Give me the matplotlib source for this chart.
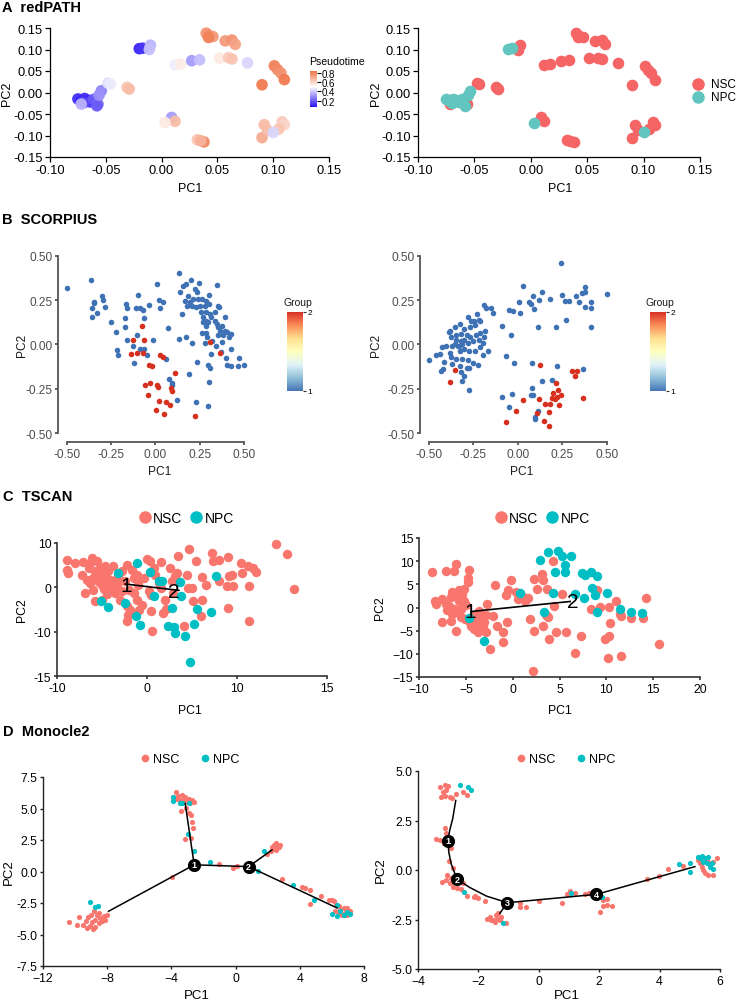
import numpy as np
import matplotlib
matplotlib.use("Agg")
import matplotlib.pyplot as plt
from matplotlib.colors import LinearSegmentedColormap, Normalize
from matplotlib.lines import Line2D
from matplotlib.cm import ScalarMappable

plt.rcParams['font.family'] = ['Liberation Sans', 'DejaVu Sans']

W, H = 738, 1003

# ---------------- Panel A data (redPATH) ----------------
a_pc1 = [-0.075, -0.072, -0.069, -0.066, -0.064, -0.070, -0.072, -0.061, -0.057, -0.058,
         -0.054, -0.056, -0.048, -0.046, -0.031, -0.029, -0.020, -0.017, -0.010, -0.011,
         0.012, 0.017, 0.027, 0.034, 0.040, 0.043, 0.046, 0.042, 0.057, 0.063,
         0.066, 0.052, 0.060, 0.063, 0.077, 0.101, 0.104, 0.107, 0.110, 0.090,
         0.009, 0.012, 0.003, 0.032, 0.038, 0.035, 0.092, 0.108, 0.110, 0.105,
         0.090, 0.095, 0.100]
a_pc2 = [-0.015, -0.020, -0.014, -0.018, -0.022, -0.024, -0.027, -0.016, -0.027, -0.031,
         0.004, -0.006, 0.022, 0.020, 0.012, 0.008, 0.102, 0.103, 0.110, 0.100,
         0.064, 0.066, 0.074, 0.076, 0.138, 0.132, 0.130, 0.128, 0.120, 0.122,
         0.112, 0.080, 0.081, 0.078, 0.069, 0.062, 0.053, 0.045, 0.030, 0.018,
         -0.058, -0.067, -0.070, -0.110, -0.115, -0.112, -0.075, -0.068, -0.075, -0.085,
         -0.105, -0.088, -0.093]
a_pt = [0.12, 0.10, 0.12, 0.11, 0.14, 0.16, 0.36, 0.20, 0.24, 0.20,
        0.28, 0.30, 0.44, 0.46, 0.64, 0.66, 0.10, 0.13, 0.36, 0.38,
        0.47, 0.54, 0.32, 0.38, 0.76, 0.78, 0.74, 0.80, 0.74, 0.76,
        0.72, 0.55, 0.62, 0.64, 0.42, 0.80, 0.78, 0.76, 0.82, 0.82,
        0.32, 0.66, 0.55, 0.64, 0.78, 0.68, 0.66, 0.62, 0.60, 0.64,
        0.70, 0.66, 0.42]
a_grp = ['NPC', 'NPC', 'NPC', 'NPC', 'NPC', 'NPC', 'NSC', 'NPC', 'NSC', 'NPC',
         'NPC', 'NPC', 'NSC', 'NSC', 'NSC', 'NSC', 'NPC', 'NPC', 'NSC', 'NSC',
         'NSC', 'NSC', 'NSC', 'NSC', 'NSC', 'NSC', 'NSC', 'NSC', 'NSC', 'NSC',
         'NSC', 'NSC', 'NSC', 'NSC', 'NSC', 'NSC', 'NSC', 'NSC', 'NSC', 'NSC',
         'NSC', 'NSC', 'NPC', 'NSC', 'NSC', 'NSC', 'NSC', 'NSC', 'NSC', 'NSC',
         'NSC', 'NSC', 'NPC']

# ---------------- Panel B data (SCORPIUS) ----------------
b1_blue = [(-0.50, 0.317), (-0.365, 0.364), (-0.35, 0.238), (-0.345, 0.232), (-0.36, 0.206),
           (-0.358, 0.156), (-0.333, 0.178), (-0.305, 0.276), (-0.294, 0.251), (-0.283, 0.21),
           (-0.253, 0.126), (-0.221, 0.069), (-0.215, -0.03), (-0.212, -0.058), (-0.175, 0.10),
           (-0.172, 0.15), (-0.166, 0.229), (-0.16, 0.206), (-0.159, 0.026), (-0.129, -0.006),
           (-0.123, -0.105), (-0.106, 0.051), (-0.10, 0.281), (-0.108, 0.208), (-0.087, 0.204),
           (-0.072, 0.195), (-0.065, 0.152), (-0.09, -0.024), (-0.063, -0.024), (-0.05, -0.058),
           (-0.036, 0.225), (-0.012, 0.026), (0.007, 0.343), (0.02, 0.25), (0.045, 0.238),
           (0.027, 0.208), (0.073, 0.096), (0.059, -0.081), (0.078, -0.193), (0.093, -0.218),
           (0.091, -0.23), (0.12, -0.311), (0.134, 0.403), (0.147, 0.171), (0.131, 0.032),
           (0.17, 0.045), (0.19, -0.167), (0.204, 0.006), (0.234, -0.099), (0.228, -0.325),
           (0.282, 0.006), (0.295, -0.118), (0.307, -0.131), (0.301, -0.212), (0.294, -0.349),
           (0.314, -0.053), (0.32, 0.019), (0.35, 0.336), (0.138, 0.295), (0.153, 0.332),
           (0.175, 0.34), (0.2, 0.364), (0.222, 0.313), (0.245, 0.347), (0.232, 0.295),
           (0.185, 0.276), (0.168, 0.248), (0.195, 0.238), (0.213, 0.257), (0.241, 0.257),
           (0.265, 0.257), (0.288, 0.248), (0.301, 0.28), (0.179, 0.22), (0.204, 0.22),
           (0.228, 0.21), (0.25, 0.22), (0.279, 0.22), (0.301, 0.229), (0.258, 0.182),
           (0.285, 0.186), (0.308, 0.173), (0.336, 0.182), (0.355, 0.22), (0.36, 0.212),
           (0.27, 0.154), (0.288, 0.135), (0.316, 0.154), (0.337, 0.135), (0.391, 0.154),
           (0.268, 0.126), (0.288, 0.107), (0.299, 0.126), (0.345, 0.116), (0.355, 0.098),
           (0.373, 0.107), (0.364, 0.079), (0.391, 0.079), (0.406, 0.069), (0.429, 0.06),
           (0.416, 0.041), (0.383, 0.051), (0.355, 0.054), (0.284, 0.066), (0.292, 0.041),
           (0.378, 0.013), (0.426, -0.024), (0.40, -0.077), (0.403, -0.118), (0.429, -0.122),
           (0.466, -0.122), (0.498, -0.118), (0.47, -0.077), (0.372, -0.043), (0.34, -0.006),
           (0.265, 0.066)]
b1_red = [(-0.076, 0.103), (-0.065, 0.028), (-0.125, 0.026), (-0.138, -0.053), (-0.106, -0.047),
          (-0.072, -0.049), (-0.039, -0.114), (-0.022, -0.12), (0.025, -0.058), (0.042, -0.073),
          (0.113, -0.159), (-0.061, -0.231), (-0.031, -0.218), (0.008, -0.231), (0.012, -0.238),
          (-0.041, -0.287), (0.087, -0.246), (0.091, -0.265), (0.02, -0.321), (0.062, -0.325),
          (0.083, -0.34), (0.005, -0.368), (0.05, -0.394), (0.31, 0.013), (0.363, -0.047),
          (0.226, -0.405)]
b2_blue = [(0.241, 0.46), (0.026, 0.332), (0.135, 0.298), (0.086, 0.272), (0.064, 0.242),
           (0.071, 0.229), (0.12, 0.251), (0.18, 0.257), (0.004, 0.238), (0.013, 0.178),
           (-0.049, 0.197), (-0.03, 0.191), (0.09, 0.20), (0.248, 0.28), (0.263, 0.244),
           (0.289, 0.244), (0.325, 0.276), (0.344, 0.242), (0.361, 0.289), (0.374, 0.326),
           (0.378, 0.298), (0.374, 0.214), (0.412, 0.242), (0.412, 0.206), (0.50, 0.285),
           (0.271, 0.139), (0.214, 0.101), (0.115, 0.098), (0.412, 0.101), (-0.09, 0.107),
           (-0.041, 0.056), (-0.07, -0.066), (-0.024, -0.105), (0.081, -0.103), (0.222, -0.124),
           (0.365, -0.137), (0.137, -0.208), (0.194, -0.199), (0.079, -0.246), (0.083, -0.287),
           (0.072, -0.287), (-0.036, -0.278), (-0.092, -0.296), (-0.051, -0.353), (0.111, -0.377),
           (0.096, -0.409), (0.096, -0.42),
           (-0.192, 0.223), (-0.182, 0.206), (-0.154, 0.204), (-0.143, 0.176), (-0.229, 0.173),
           (-0.22, 0.141), (-0.212, 0.13), (-0.246, 0.13), (-0.28, 0.154), (-0.265, 0.13),
           (-0.241, 0.111), (-0.271, 0.101), (-0.301, 0.088), (-0.327, 0.116), (-0.355, 0.098),
           (-0.383, 0.079), (-0.389, 0.073), (-0.184, 0.079), (-0.214, 0.064), (-0.237, 0.051),
           (-0.192, 0.041), (-0.271, 0.041), (-0.289, 0.051), (-0.318, 0.06), (-0.346, 0.051),
           (-0.374, 0.041), (-0.346, 0.023), (-0.323, 0.017), (-0.301, 0.023), (-0.28, 0.009),
           (-0.25, 0.019), (-0.22, 0.023), (-0.195, 0.009), (-0.355, 0.004), (-0.331, -0.006),
           (-0.368, -0.009), (-0.402, -0.006), (-0.425, -0.015), (-0.44, -0.053), (-0.459, -0.062),
           (-0.50, -0.09), (-0.383, -0.047), (-0.327, -0.034), (-0.301, -0.024), (-0.276, -0.039),
           (-0.244, -0.034), (-0.214, -0.015), (-0.167, -0.034), (-0.195, -0.062), (-0.374, -0.071),
           (-0.346, -0.081), (-0.312, -0.084), (-0.28, -0.09), (-0.252, -0.103), (-0.224, -0.118),
           (-0.413, -0.099), (-0.419, -0.137), (-0.434, -0.152), (-0.368, -0.109), (-0.327, -0.122),
           (-0.323, -0.156), (-0.289, -0.133), (-0.278, -0.131), (-0.301, -0.178), (-0.312, -0.206),
           (-0.274, -0.255), (-0.338, -0.011), (-0.312, 0.004)]
b2_red = [(-0.355, -0.143), (-0.382, -0.212), (0.126, -0.114), (0.303, -0.152), (0.331, -0.15),
          (0.32, -0.178), (0.212, -0.218), (0.199, -0.272), (0.227, -0.259), (0.218, -0.296),
          (0.241, -0.283), (0.19, -0.302), (0.209, -0.306), (0.18, -0.334), (0.152, -0.334),
          (0.12, -0.31), (0.231, -0.343), (0.365, -0.302), (0.026, -0.315), (-0.013, -0.375),
          (0.105, -0.386), (0.177, -0.381), (-0.066, -0.437), (0.147, -0.433), (0.177, -0.46)]

# ---------------- Panel C data (TSCAN) ----------------
c1_nsc = [(-8.84, 6.24), (-8.88, 3.98), (-8.77, 3.23), (-8.02, 5.49), (-7.16, 5.71), (-7.2, 2.7),
          (-6.38, 5.49), (-6.12, 6.6), (-5.6, 6.0), (-6.46, 4.36), (-5.78, 3.6), (-6.72, 1.73),
          (-6.34, 0.98), (-6.9, -1.28), (-5.97, -0.68), (-5.78, -3.16), (-5.04, -2.78), (-5.52, 2.48),
          (-5.04, 3.23), (-5.22, 4.36), (-4.66, 4.74), (-4.29, 3.6), (-3.73, 4.74), (-4.66, 2.1),
          (-4.1, 1.73), (-5.04, 0.6), (-4.37, 0.23), (-3.92, -0.15), (-3.36, 0.6), (-3.54, -1.28),
          (-2.99, -2.78), (-2.8, -0.9), (-3.17, 2.48), (-2.8, 3.6), (-2.24, 5.1), (-1.68, 3.98),
          (-1.12, 2.85), (-1.49, 2.1), (-0.93, 1.73), (-2.05, -0.53), (-1.49, -1.28), (-1.12, -2.78),
          (-2.24, -4.29), (-1.87, -5.19), (-2.13, -6.17), (-2.24, -7.67), (-0.93, -5.04), (-0.56, -3.91),
          (0.49, -1.65), (0.49, -5.41), (0.04, 6.39), (0.37, 5.86), (1.6, 5.71), (0.75, 4.36),
          (0.93, 2.85), (1.31, 0.98), (1.6, -0.15), (2.05, -2.78), (1.79, -5.79), (0.56, -9.92),
          (3.43, 6.99), (3.1, 2.48), (2.87, -1.28), (4.1, -8.8), (4.66, 8.65), (5.41, 5.86),
          (4.59, -0.15), (5.04, -0.15), (4.48, 2.85), (5.15, -3.16), (6.08, -2.93), (5.97, -6.54),
          (6.08, 2.33), (6.6, 0.45), (7.2, 7.74), (7.28, 5.86), (7.95, 6.24), (7.95, 1.35),
          (8.84, 0.23), (9.59, 0.23), (9.07, 2.48), (9.44, 2.85), (8.96, 6.77), (8.96, -4.66),
          (10.45, 5.49), (10.6, 3.23), (11.2, 4.74), (11.75, 4.36), (12.13, 3.46), (11.38, 0.23),
          (11.38, -7.52), (14.37, 9.77), (15.56, 7.59), (16.34, -0.3), (3.36, 3.23), (2.61, 4.36),
          (2.8, 1.35), (2.16, -4.89), (0.19, -0.9), (-4.0, 1.0), (-3.5, 1.6), (-4.5, -1.5),
          (-6.0, 2.0), (-5.3, 1.2), (-2.5, 1.5), (-1.0, 0.5), (-0.3, 2.2), (-4.8, -0.4)]
c1_npc = [(-3.17, 3.23), (-1.12, 5.49), (0.3, 3.38), (1.31, 1.35), (1.68, 1.5), (3.66, 1.28),
          (0.75, -2.03), (3.73, -2.03), (-5.11, -3.16), (-4.37, -4.51), (-2.43, -3.53), (-1.23, -6.39),
          (-0.75, -8.57), (2.31, -8.65), (2.99, -8.95), (3.1, -10.3), (4.22, -10.9), (2.8, -4.66),
          (5.52, -4.81), (5.22, -8.27), (7.09, -5.56), (7.65, 2.48), (4.8, -16.9)]
c1_path = [(-2.43, 0.75), (3.54, -0.68)]
c1_nodes = [(-2.35, 0.45), (2.99, -0.83)]

c2_nsc = [(-8.64, 7.64), (-7.14, 7.79), (-6.25, 7.79), (-6.07, 9.44), (-4.71, 8.0), (-8.32, 1.51),
          (-8.21, 0.79), (-7.5, 1.87), (-7.14, 0.79), (-7.5, -3.17), (-6.61, -2.81), (-6.07, -4.97),
          (-6.43, 3.32), (-6.07, 2.6), (-5.71, 3.68), (-5.36, 2.96), (-5.71, 1.51), (-5.18, 1.51),
          (-6.25, -0.29), (-5.89, -1.01), (-5.54, -0.29), (-6.43, -1.37), (-5.18, 4.04), (-4.82, 5.48),
          (-4.82, 6.34), (-5.11, -2.45), (-4.64, -2.81), (-4.46, -3.89), (-4.11, -4.61), (-3.75, -3.03),
          (-3.39, -2.09), (-3.04, -3.17), (-3.39, -4.25), (-2.86, -5.34), (-3.68, -5.34), (-2.86, -1.59),
          (-2.75, 0.79), (-1.89, 4.76), (-2.14, -1.73), (-1.68, -3.89), (-1.07, -5.34), (-1.07, -7.35),
          (-0.61, -3.17), (-0.71, 2.6), (-0.46, 3.68), (-0.18, 5.84), (0.36, 3.32), (0.54, 1.87),
          (1.07, 2.24), (1.32, 1.3), (1.61, 2.02), (1.89, -2.45), (2.25, -4.97), (3.21, -3.89),
          (3.57, -1.59), (3.75, -2.09), (2.57, 4.04), (2.32, 6.2), (3.14, 7.28), (3.21, 5.98),
          (3.64, 4.04), (4.29, 9.95), (4.39, 0.43), (4.64, -5.34), (5.71, -5.34), (5.29, 2.96),
          (3.93, -6.78), (7.32, -6.2), (8.39, -0.29), (9.29, 0.07), (10.25, 0.07), (9.04, 3.68),
          (9.82, -6.78), (10.25, -6.06), (10.36, -3.32), (11.07, 1.51), (11.43, -1.37), (11.61, -1.87),
          (12.61, -2.31), (13.93, -2.31), (14.21, 2.02), (15.61, -7.86), (-2.39, -8.94), (6.61, -9.8),
          (10.18, -10.9), (11.54, -10.4), (2.21, -13.6), (-6.8, 0.3), (-5.0, 0.5), (-4.2, -1.8),
          (-3.6, -0.8), (-6.6, 2.2), (-5.5, -2.0), (-4.0, -2.2), (-3.2, -4.0), (-7.0, -0.5)]
c2_npc = [(2.96, 10.17), (3.75, 11.97), (4.82, 12.11), (5.25, 11.1), (6.18, 11.03), (5.54, 9.23),
          (4.57, 7.64), (5.64, 7.64), (7.39, 7.5), (7.68, 7.07), (8.32, 7.64), (8.96, 6.78),
          (8.5, 4.18), (8.75, 2.6), (7.61, 2.02), (6.61, 2.96), (4.29, 3.17), (0.79, 3.17),
          (10.07, 3.1), (11.43, -0.29), (12.68, -1.01), (13.82, -1.23), (8.96, -1.01), (3.32, -0.87),
          (-3.04, -7.14), (-4.64, -2.31)]
c2_path = [(-4.46, -0.87), (6.14, 1.3)]
c2_nodes = [(-4.5, -0.95), (6.43, 1.3)]

# ---------------- Panel D data (Monocle2) ----------------
d1_nsc = [(-3.7, 6.32), (-3.87, 5.92), (-3.56, 6.0), (-3.35, 6.05), (-3.14, 5.92), (-2.93, 5.79),
          (-2.72, 5.66), (-3.0, 5.55), (-2.62, 5.53), (-3.45, 5.66), (-3.66, 5.79), (-3.24, 5.74),
          (-2.83, 5.47), (-3.39, 4.79), (-3.08, 5.05), (-2.89, 4.61), (-2.79, 4.47), (-2.72, 3.95),
          (-2.66, 3.42), (-3.14, 2.58), (-2.77, 2.63), (-1.06, 0.58), (-0.19, 0.26), (0.08, 0.47),
          (-3.97, -0.42),
          (-10.35, -4.0), (-9.9, -4.26), (-9.73, -3.63), (-9.48, -4.21), (-9.31, -3.95), (-9.17, -3.63),
          (-9.06, -4.34), (-8.96, -4.03), (-8.75, -4.42), (-9.02, -3.42), (-8.81, -3.16), (-8.65, -3.42),
          (-8.48, -3.29), (-8.44, -3.68), (-8.23, -3.55), (-8.13, -3.82), (-8.34, -3.95), (-8.02, -3.42),
          (-8.75, -3.82), (-9.23, -4.47), (-8.9, -4.55), (-8.5, -4.08),
          (2.37, 2.1), (2.54, 2.24), (2.68, 1.97), (2.41, 1.84), (2.58, 1.84), (2.74, 2.1),
          (2.27, 1.97), (2.2, 1.63), (1.95, 1.37), (2.49, 1.71),
          (2.89, -0.58), (4.14, -1.26), (4.35, -1.32), (4.66, -1.45), (5.32, -1.97), (4.62, -2.55),
          (5.8, -2.24), (6.01, -2.29), (6.11, -2.37), (6.28, -2.63), (6.42, -2.76), (6.53, -3.03),
          (6.74, -2.89), (6.94, -2.89), (7.05, -3.16), (6.84, -3.29), (6.63, -3.42), (6.42, -3.29),
          (6.94, -3.42), (7.15, -3.16), (6.22, -3.16)]
d1_npc = [(-3.87, 5.92), (-3.87, 5.58), (-3.49, 5.47), (-3.35, 5.47), (-2.93, 5.47), (-2.99, 2.97),
          (-2.62, 1.63), (-1.62, 0.79), (1.39, 0.05), (1.79, 1.63), (3.58, -1.1), (4.86, -2.29),
          (6.32, -2.68), (6.01, -3.37), (6.32, -3.55), (6.74, -3.47), (6.94, -3.24), (7.15, -3.37),
          (6.53, -3.16), (-9.1, -2.42), (-8.79, -2.84), (-8.6, -2.76)]
d1_edges = [[(-2.58, 0.53), (-3.14, 5.4)], [(-2.58, 0.53), (-7.92, -3.16)],
            [(-2.58, 0.53), (0.81, 0.39)], [(0.81, 0.39), (2.27, 1.71)],
            [(0.81, 0.39), (6.32, -2.89)]]
d1_nodes = [(-2.58, 0.53), (0.81, 0.39)]

d2_nsc = [(-3.26, 4.18), (-3.12, 4.3), (-3.01, 4.22), (-3.06, 4.05), (-3.17, 3.96), (-3.23, 3.71),
          (-2.95, 3.71), (-2.86, 3.63), (-2.75, 3.84), (-2.51, 3.96), (-2.38, 3.79), (-3.12, 3.74),
          (-3.12, 2.14), (-3.08, 1.89), (-3.39, 1.57), (-3.28, 1.52), (-3.15, 1.35), (-2.9, 1.1),
          (-2.98, 0.47), (-2.84, 0.08), (-3.04, -0.25), (-3.2, -0.59), (-3.08, -0.51), (-2.95, -0.67),
          (-2.84, -0.84), (-2.71, -0.93), (-2.56, -0.98), (-2.9, -0.42), (-2.51, -0.67), (-2.38, -1.32),
          (-2.15, -1.35), (-2.01, -1.43), (-2.1, -1.32), (-1.79, -1.55),
          (-1.73, -2.45), (-1.62, -2.36), (-1.51, -2.5), (-1.43, -2.28), (-1.35, -2.19), (-1.4, -2.45),
          (-1.29, -2.53), (-1.24, -2.36), (-1.09, -2.66), (-1.46, -2.61), (-1.57, -2.55),
          (-0.63, -1.65), (-0.61, -1.85), (-0.41, -1.85), (0.0, -1.55), (0.78, -1.69), (0.92, -1.23),
          (1.03, -1.05), (1.19, -1.18), (1.52, -1.23), (1.66, -1.18), (2.02, -1.38), (2.13, -1.52),
          (2.27, -1.48), (2.11, -1.82), (2.25, -1.77), (2.41, -1.82), (2.02, -2.14), (3.57, -0.46),
          (3.99, -0.29), (4.29, 0.03), (4.78, 0.22),
          (5.28, 0.51), (5.34, 0.34), (5.39, 0.17), (5.5, -0.17), (5.61, -0.25), (5.78, -0.25),
          (5.89, 0.59), (5.67, 0.34), (5.56, 0.51), (5.78, 0.42), (5.45, 0.0)]
d2_npc = [(-2.62, 4.27), (-2.34, 4.17), (-2.23, 4.05), (-2.49, -1.13), (-1.2, -2.66), (1.08, -1.15),
          (2.08, -1.35), (4.65, 0.29), (5.0, 0.34), (5.0, -0.12), (5.28, 0.67), (5.39, 0.71),
          (5.5, 0.59), (5.61, 0.64), (5.56, 0.34), (5.67, 0.17), (5.78, 0.03), (5.45, 0.42),
          (5.34, 0.59), (5.72, 0.34)]
d2_path = [(-2.75, 3.51), (-2.85, 2.6), (-2.95, 2.0), (-3.01, 1.47), (-2.98, 0.9), (-2.9, 0.3),
           (-2.71, -0.46), (-2.29, -0.88), (-1.73, -1.32), (-1.04, -1.65), (1.91, -1.23), (5.17, 0.17)]
d2_branch = [(-1.04, -1.65), (-1.29, -2.19)]
d2_nodes = [(-3.01, 1.47), (-2.71, -0.46), (-1.04, -1.65), (1.91, -1.23)]

# ---------------- helpers ----------------
fig = plt.figure(figsize=(W / 100, H / 100), dpi=100)


def ax_px(x0, y0, x1, y1):
    return fig.add_axes([x0 / W, 1 - y1 / H, (x1 - x0) / W, (y1 - y0) / H])


def txt(x, y, s, **kw):
    return fig.text(x / W, 1 - y / H, s, **kw)


def xy(pairs):
    a = np.array(pairs)
    return a[:, 0], a[:, 1]


def style(ax, color='black', lw=0.9, size=7.5, labelcolor='black', length=3):
    for s in ['top', 'right']:
        ax.spines[s].set_visible(False)
    for s in ['left', 'bottom']:
        ax.spines[s].set_color(color)
        ax.spines[s].set_linewidth(lw)
    ax.tick_params(axis='both', colors=color, labelcolor=labelcolor, labelsize=size,
                   length=length, width=lw, pad=1.5)
    ax.set_facecolor('none')


NSC_A, NPC_A = '#F66565', '#63C5BF'
NSC_C, NPC_C = '#F8766D', '#00BFC4'

# ---------------- Titles ----------------
for (x, y, s) in [(2, 8, 'A  redPATH'), (2, 220, 'B  SCORPIUS'), (3, 497, 'C  TSCAN'),
                  (3, 732, 'D  Monocle2')]:
    txt(x, y, s, fontsize=10.5, fontweight='bold', va='center', ha='left')

# ---------------- Panel A ----------------
pt_cmap = LinearSegmentedColormap.from_list('pt', [(0, '#2A14F5'), (0.56, '#FFFFFF'), (1, '#F07448')])
pt_norm = Normalize(vmin=0.07, vmax=0.835)

axA1 = ax_px(50, 29, 329, 158)
axA1.scatter(a_pc1, a_pc2, c=a_pt, cmap=pt_cmap, norm=pt_norm, s=70, alpha=0.95,
             linewidths=0, clip_on=False)
axA2 = ax_px(418, 29, 700, 158)
grp = np.array(a_grp)
for g, col in [('NSC', NSC_A), ('NPC', NPC_A)]:
    m = grp == g
    axA2.scatter(np.array(a_pc1)[m], np.array(a_pc2)[m], c=col, s=70, linewidths=0, clip_on=False)
for ax in (axA1, axA2):
    ax.set_xlim(-0.10, 0.15)
    ax.set_ylim(-0.15, 0.15)
    ax.set_xticks([-0.10, -0.05, 0.00, 0.05, 0.10, 0.15])
    ax.set_yticks([-0.15, -0.10, -0.05, 0.00, 0.05, 0.10, 0.15])
    ax.xaxis.set_major_formatter(matplotlib.ticker.FormatStrFormatter('%.2f'))
    ax.yaxis.set_major_formatter(matplotlib.ticker.FormatStrFormatter('%.2f'))
    style(ax, size=9.3, length=3.5)
txt(190, 189, 'PC1', fontsize=9, ha='center', va='center')
txt(560, 189, 'PC1', fontsize=9, ha='center', va='center')
txt(7, 94, 'PC2', fontsize=9, ha='center', va='center', rotation=90)
txt(376, 94, 'PC2', fontsize=9, ha='center', va='center', rotation=90)

caxA = ax_px(310, 72, 317, 108)
cb = fig.colorbar(ScalarMappable(norm=pt_norm, cmap=pt_cmap), cax=caxA, ticks=[0.2, 0.4, 0.6, 0.8])
cb.outline.set_visible(False)
caxA.tick_params(labelsize=7, length=3, width=0.8, pad=0.5)
caxA.set_yticklabels(['0.2', '0.4', '0.6', '0.8'])
txt(309, 62, 'Pseudotime', fontsize=7.6, ha='left', va='center')

for (yy, col, lab) in [(85, NSC_A, 'NSC'), (98, NPC_A, 'NPC')]:
    fig.add_artist(Line2D([698 / W], [1 - yy / H], marker='o', ls='', color=col, markersize=8,
                          transform=fig.transFigure))
    txt(711, yy, lab, fontsize=8.5, ha='left', va='center')

# ---------------- Panel B ----------------
grp_cmap = LinearSegmentedColormap.from_list('grp', ['#4575B4', '#91BFDB', '#E0F3F8', '#FFFFBF',
                                                     '#FEE090', '#FC8D59', '#D73027'])
BLUE_B, RED_B = '#3F72B5', '#D7301F'
GRAY = '#4D4D4D'

axB1 = ax_px(58, 250, 250, 443)
axB2 = ax_px(420, 250, 613, 443)
for ax, blue, red, (xl0, xl1) in [(axB1, b1_blue, b1_red, (-0.5508, 0.534)),
                                   (axB2, b2_blue, b2_red, (-0.5506, 0.534))]:
    x, y = xy(blue)
    ax.scatter(x, y, c=BLUE_B, s=16, linewidths=0, clip_on=False)
    x, y = xy(red)
    ax.scatter(x, y, c=RED_B, s=16, linewidths=0, clip_on=False)
    ax.set_xlim(xl0, xl1)
    ax.set_ylim(-0.5508, 0.5395)
    ax.set_xticks([-0.5, -0.25, 0, 0.25, 0.5])
    ax.set_yticks([-0.5, -0.25, 0, 0.25, 0.5])
    ax.xaxis.set_major_formatter(matplotlib.ticker.FormatStrFormatter('%.2f'))
    ax.yaxis.set_major_formatter(matplotlib.ticker.FormatStrFormatter('%.2f'))
    style(ax, color='#555555', lw=1.3, size=8.6, labelcolor=GRAY, length=2.5)
    ax.spines['left'].set_bounds(-0.5, 0.5)
    ax.spines['bottom'].set_bounds(-0.5, 0.5)
txt(160, 472, 'PC1', fontsize=8.6, ha='center', va='center', color='#1a1a1a')
txt(522, 472, 'PC1', fontsize=8.6, ha='center', va='center', color='#1a1a1a')
txt(22, 345, 'PC2', fontsize=8.6, ha='center', va='center', rotation=90, color='#1a1a1a')
txt(376, 345, 'PC2', fontsize=8.6, ha='center', va='center', rotation=90, color='#1a1a1a')

grp_norm = Normalize(vmin=1, vmax=2)
for (x0, x1, tx) in [(287, 303, 298), (650, 666, 660)]:
    cax = ax_px(x0, 313, x1, 392)
    cbb = fig.colorbar(ScalarMappable(norm=grp_norm, cmap=grp_cmap), cax=cax, ticks=[1, 2])
    cbb.outline.set_visible(False)
    cax.tick_params(labelsize=6, length=2, width=0.8, pad=1, color='#333333')
    cax.set_yticklabels(['1', '2'])
    txt(tx, 303, 'Group', fontsize=7.5, ha='center', va='center', color='#1a1a1a')

# ---------------- Panel C ----------------
axC1 = ax_px(57, 544, 327, 677)
axC2 = ax_px(419, 539, 700, 678)
for ax, nsc, npc, path, nodes in [(axC1, c1_nsc, c1_npc, c1_path, c1_nodes),
                                  (axC2, c2_nsc, c2_npc, c2_path, c2_nodes)]:
    x, y = xy(nsc)
    ax.scatter(x, y, c=NSC_C, s=46, linewidths=0, clip_on=False, zorder=2)
    x, y = xy(npc)
    ax.scatter(x, y, c=NPC_C, s=46, linewidths=0, clip_on=False, zorder=2)
    px, py = xy(path)
    ax.plot(px, py, color='black', lw=1.2, zorder=3)
    for i, (nx, ny) in enumerate(nodes):
        ax.text(nx, ny, str(i + 1), fontsize=15, ha='center', va='center', zorder=4)
    style(ax, color='#333333', lw=1.2, size=8.8, length=2.5)

axC1.set_xlim(-10, 20)
axC1.set_ylim(-20, 10)
axC1.set_xticks([-10, 0, 10, 20])
axC1.set_xticklabels(['-10', '0', '10', '15'])
axC1.set_yticks([-20, -10, 0, 10])
axC1.set_yticklabels(['-15', '-10', '0', '10'])
axC2.set_xlim(-10, 20)
axC2.set_ylim(-15, 15)
axC2.set_xticks([-10, -5, 0, 5, 10, 15, 20])
axC2.set_yticks([-15, -10, -5, 0, 5, 10, 15])
txt(190, 711, 'PC1', fontsize=8.8, ha='center', va='center')
txt(560, 711, 'PC1', fontsize=8.8, ha='center', va='center')
txt(22, 610, 'PC2', fontsize=8.8, ha='center', va='center', rotation=90)
txt(380, 608, 'PC2', fontsize=8.8, ha='center', va='center', rotation=90)

legC = [Line2D([], [], marker='o', ls='', color=NSC_C, markersize=8, label='NSC'),
        Line2D([], [], marker='o', ls='', color=NPC_C, markersize=8, label='NPC')]
for cx in (185, 541):
    fig.legend(handles=legC, loc='center', bbox_to_anchor=(cx / W, 1 - 519 / H), ncol=2,
               frameon=False, fontsize=10, handletextpad=0.0, columnspacing=0.4,
               borderaxespad=0, handlelength=1.2)

# ---------------- Panel D ----------------
axD1 = ax_px(43, 778, 364, 967)
axD2 = ax_px(418, 772, 720, 970)
for ax, nsc, npc in [(axD1, d1_nsc, d1_npc), (axD2, d2_nsc, d2_npc)]:
    x, y = xy(nsc)
    ax.scatter(x, y, c=NSC_C, s=14, linewidths=0, clip_on=False, zorder=2)
    x, y = xy(npc)
    ax.scatter(x, y, c=NPC_C, s=14, linewidths=0, clip_on=False, zorder=2)
    style(ax, color='#222222', lw=1.0, size=8.8, length=2.5)

for seg in d1_edges:
    ex, ey = xy(seg)
    axD1.plot(ex, ey, color='black', lw=1.1, zorder=3)
px, py = xy(d2_path)
axD2.plot(px, py, color='black', lw=1.1, zorder=3)
px, py = xy(d2_branch)
axD2.plot(px, py, color='black', lw=1.1, zorder=3)
for ax, nodes in [(axD1, d1_nodes), (axD2, d2_nodes)]:
    nx, ny = xy(nodes)
    ax.scatter(nx, ny, s=90, c='black', zorder=4, linewidths=0)
    for i, (a, b) in enumerate(nodes):
        ax.text(a, b, str(i + 1), color='white', fontsize=6.5, fontweight='bold',
                ha='center', va='center', zorder=5)

axD1.set_xlim(-12, 8)
axD1.set_ylim(-7.5, 7.5)
axD1.set_xticks([-12, -8, -4, 0, 4, 8])
axD1.set_yticks([-7.5, -5.0, -2.5, 0.0, 2.5, 5.0, 7.5])
axD1.yaxis.set_major_formatter(matplotlib.ticker.FormatStrFormatter('%.1f'))
axD2.set_xlim(-4, 6)
axD2.set_ylim(-5, 5)
axD2.set_xticks([-4, -2, 0, 2, 4, 6])
axD2.set_yticks([-5.0, -2.5, 0.0, 2.5, 5.0])
axD2.yaxis.set_major_formatter(matplotlib.ticker.FormatStrFormatter('%.1f'))
txt(197, 996, 'PC1', fontsize=9.5, ha='center', va='center')
txt(567, 996, 'PC1', fontsize=9.5, ha='center', va='center')
txt(9, 872, 'PC2', fontsize=9.5, ha='center', va='center', rotation=90)
txt(381, 870, 'PC2', fontsize=9.5, ha='center', va='center', rotation=90)

legD = [Line2D([], [], marker='o', ls='', color=NSC_C, markersize=4.5, label='NSC'),
        Line2D([], [], marker='o', ls='', color=NPC_C, markersize=4.5, label='NPC')]
for cx in (189, 565):
    fig.legend(handles=legD, loc='center', bbox_to_anchor=(cx / W, 1 - 760 / H), ncol=2,
               frameon=False, fontsize=9, handletextpad=0.1, columnspacing=1.6,
               borderaxespad=0, handlelength=1.0)

fig.savefig('out.png', dpi=100)
